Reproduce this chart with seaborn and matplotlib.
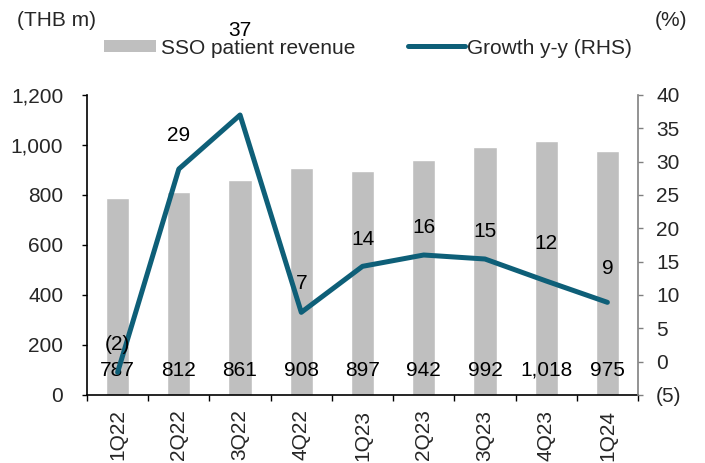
import numpy as np
import pandas as pd
import matplotlib
matplotlib.use("Agg")
import matplotlib.pyplot as plt
import seaborn as sns
from matplotlib.ticker import FuncFormatter, FixedLocator, NullFormatter
from matplotlib.patches import Patch
from matplotlib.lines import Line2D

quarters = ["1Q22", "2Q22", "3Q22", "4Q22", "1Q23", "2Q23", "3Q23", "4Q23", "1Q24"]
revenue = [787, 812, 861, 908, 897, 942, 992, 1018, 975]
growth = [-1.6, 28.9, 37.0, 7.4, 14.3, 16.0, 15.4, 12.1, 8.9]

sns.set_theme(style="white")
plt.rcParams['font.family'] = ['Liberation Sans', 'DejaVu Sans']
FS = 15

BAR = "#BFBFBF"
LINE = "#0E5F78"
LW = 3.6

W, H = 705, 463
fig = plt.figure(figsize=(W / 100, H / 100), dpi=100)
ax = fig.add_axes([87 / W, (H - 395) / H, 551 / W, 300 / H])
df = pd.DataFrame({"q": quarters, "rev": revenue})
sns.barplot(data=df, x="q", y="rev", color=BAR, width=0.38, ax=ax, saturation=1)
ax.set_ylim(0, 1200)
ax.set_xlim(-0.5, len(quarters) - 0.5)
ax.set_xlabel("")
ax.set_ylabel("")
ax.yaxis.set_major_locator(FixedLocator(np.arange(0, 1201, 200)))
ax.yaxis.set_major_formatter(FuncFormatter(lambda v, p: f"{int(v):,}"))
ax.tick_params(axis="y", labelsize=FS, length=3.6, width=1, color="black", direction="out", left=True, pad=13.5)
ax.xaxis.set_major_locator(FixedLocator(np.arange(-0.5, len(quarters), 1)))
ax.xaxis.set_major_formatter(NullFormatter())
ax.xaxis.set_minor_locator(FixedLocator(np.arange(len(quarters))))
ax.set_xticklabels(quarters, minor=True, rotation=90, fontsize=FS)
ax.tick_params(axis="x", which="major", length=4.5, width=1, color="black", direction="out", bottom=True)
ax.tick_params(axis="x", which="minor", length=0, pad=10.5)
for s in ["top", "right"]:
    ax.spines[s].set_visible(False)
for s in ["left", "bottom"]:
    ax.spines[s].set_color("black")
    ax.spines[s].set_linewidth(1.2)

for i, v in enumerate(revenue):
    ax.text(i, 100, f"{v:,}", ha="center", va="center", fontsize=FS, color="black", zorder=5)

ax2 = ax.twinx()
sns.lineplot(x=np.arange(len(quarters)), y=growth, color=LINE, linewidth=LW, ax=ax2)
ax2.set_ylim(-5, 40)
ax2.yaxis.set_major_locator(FixedLocator(np.arange(-5, 41, 5)))
ax2.yaxis.set_major_formatter(FuncFormatter(lambda v, p: f"({int(abs(v))})" if v < 0 else f"{int(v)}"))
ax2.tick_params(axis="y", labelsize=FS, length=3.6, width=1, color="#808080", direction="out", right=True, pad=9.5)
for s in ["top", "left", "bottom"]:
    ax2.spines[s].set_visible(False)
ax2.spines["right"].set_color("#808080")
ax2.spines["right"].set_linewidth(1.2)
ax2.grid(False)
ax.grid(False)

label_offsets = [20, 24, 61, 21, 19, 20, 20, 27, 24]
for i, g in enumerate(growth):
    r = round(g)
    lab = f"({abs(r)})" if r < 0 else f"{r}"
    ax2.annotate(lab, (i, g), xytext=(0, label_offsets[i]), textcoords="offset points",
                 ha="center", va="center", fontsize=FS, color="black")

fig.text(17 / W, 1 - 20 / H, "(THB m)", ha="left", va="center", fontsize=FS)
fig.text(687 / W, 1 - 20 / H, "(%)", ha="right", va="center", fontsize=FS)

leg1 = fig.legend([Patch(facecolor=BAR, edgecolor="none")], ["SSO patient revenue"], loc="center left",
                  bbox_to_anchor=(104 / W, 1 - 48 / H), frameon=False, fontsize=FS, borderpad=0,
                  borderaxespad=0, handlelength=2.5, handleheight=0.5, handletextpad=0.25)
leg2 = fig.legend([Line2D([0], [0], color=LINE, linewidth=LW, solid_capstyle="round")], ["Growth y-y (RHS)"],
                  loc="center left", bbox_to_anchor=(408 / W, 1 - 48 / H), frameon=False, fontsize=FS,
                  borderpad=0, borderaxespad=0, handlelength=2.75, handletextpad=0.1)

fig.savefig("out.png", dpi=100)
